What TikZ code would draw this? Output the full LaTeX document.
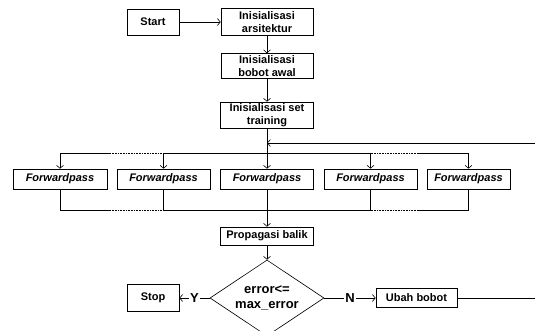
\documentclass[tikz,border=0pt]{standalone}
\usepackage{fontspec}
\setmainfont{Liberation Sans}
\usepackage{tikz}
\usetikzlibrary{arrows.meta,positioning,shapes.geometric,calc}

\begin{document}
\begin{tikzpicture}[x=1pt,y=-1pt,>={Straight Barb[length=3pt,width=7pt]},line width=0.6pt,
  font=\fontsize{11}{13.5}\selectfont\bfseries,
  box/.style={draw,fill=white,inner sep=1pt,align=center,minimum height=19pt},
  fpbox/.style={box,font=\fontsize{11}{13.5}\selectfont\bfseries\itshape,minimum width=93pt,minimum height=20pt},
  dots/.style={densely dotted},
  lbl/.style={fill=white,inner sep=1.5pt,font=\fontsize{13}{15}\selectfont\bfseries}]
\useasboundingbox (0,0) rectangle (535,331);
% main chain
\node[box,minimum width=52pt,minimum height=26pt] (start) at (153,22) {Start};
\node[box,minimum width=92pt,minimum height=27pt] (arsi) at (267,22) {Inisialisasi\\arsitektur};
\node[box,minimum width=92pt,minimum height=25pt] (bobot) at (267,66) {Inisialisasi\\bobot awal};
\node[box,minimum width=93pt,minimum height=26pt] (set) at (267,115) {Inisialisasi set\\training};
% forward passes
\node[fpbox,minimum width=94pt] (fp1) at (60,179) {Forwardpass};
\node[fpbox] (fp2) at (163.5,179) {Forwardpass};
\node[fpbox] (fp3) at (267,179) {Forwardpass};
\node[fpbox] (fp4) at (370.5,179) {Forwardpass};
\node[fpbox,minimum width=83pt] (fp5) at (468.5,179) {Forwardpass};
\node[box,minimum width=93pt,minimum height=18pt] (prop) at (267,236) {Propagasi balik};
\node[draw,diamond,aspect=1.5,fill=white,inner sep=0pt,minimum width=114pt,minimum height=76pt,align=center,
  font=\fontsize{13}{15}\selectfont\bfseries] (dec) at (267,298) {error<=\\max\_error};
\node[box,minimum width=52pt,minimum height=27pt] (stop) at (153,298) {Stop};
\node[box,minimum width=81pt] (ubah) at (416.5,298) {Ubah bobot};
\coordinate (tl) at (110,153); \coordinate (tr) at (417,153);
\coordinate (bl) at (110,210); \coordinate (br) at (417,210);
\coordinate (re) at (535,298); \coordinate (rt) at (535,143);
\draw[->] (start) -- (arsi);
\draw[->] (arsi) -- (bobot);
\draw[->] (bobot) -- (set);
\draw[->] (set) -- (fp3);
\foreach \n in {1,2,4,5} \draw[->] (fp\n |- tl) -- (fp\n);
\draw (fp1 |- tl) -- (tl); \draw[dots] (tl) -- (fp2 |- tl); \draw (fp2 |- tl) -- (fp4 |- tl); \draw[dots] (fp4 |- tl) -- (tr); \draw (tr) -- (fp5 |- tl);
\foreach \n in {1,2,4,5} \draw (fp\n) -- (fp\n |- bl);
\draw (fp1 |- bl) -- (bl); \draw[dots] (bl) -- (fp2 |- bl); \draw (fp2 |- bl) -- (fp4 |- bl); \draw[dots] (fp4 |- bl) -- (br); \draw (br) -- (fp5 |- bl);
\draw[->] (fp3) -- (prop);
\draw[->] (prop) -- (dec);
\draw[->] (dec) -- node[lbl] {Y} (stop);
\draw[->] (dec) -- node[lbl] {N} (ubah);
\draw (ubah) -- (re);
\draw[->] (rt) -- (set |- rt);
\end{tikzpicture}
\end{document}
